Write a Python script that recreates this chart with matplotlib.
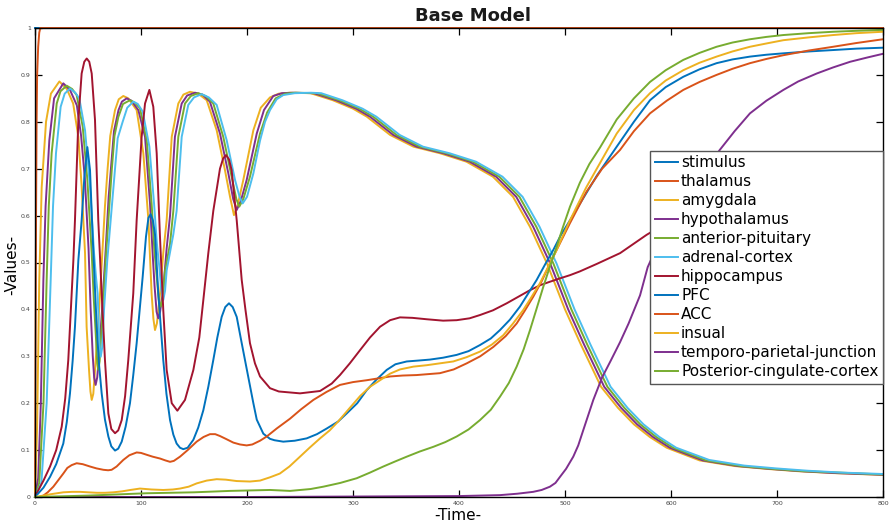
import numpy as np
import matplotlib
matplotlib.use("Agg")
import matplotlib.pyplot as plt

# time / value pairs
t_stimulus = [0, 800]
stimulus = [1, 1]

t_thalamus = [0, 0.5, 1, 1.5, 2, 3, 4, 5, 800]
thalamus = [0, 0.3, 0.6, 0.8, 0.9, 0.96, 0.99, 1.0, 1.0]

t_amygdala = [0, 2, 4, 6.3, 10.4, 15, 23, 30, 36, 40.9, 44, 47.2, 48.7, 51, 52.3, 53.5, 55, 56.6,
              60, 63, 66, 68.5, 71, 75.5, 79, 83.3, 88, 95.9, 102.2, 107, 110, 111.7, 113.2, 115,
              118, 121, 124.2, 129, 135.2, 140, 146.2, 154, 162, 171.4, 179.2, 184, 187.7, 191,
              196.5, 206, 213, 221.7, 230, 240.6, 260, 281, 300, 313, 335, 357, 382, 407, 432,
              451, 467, 483, 500, 515, 534, 550, 565, 580, 596, 627, 660, 690, 720, 753, 800]
amygdala = [0, 0.15, 0.46, 0.66, 0.80, 0.86, 0.886, 0.87, 0.839, 0.768, 0.662, 0.52, 0.363, 0.27,
            0.225, 0.207, 0.22, 0.27, 0.38, 0.5, 0.62, 0.70, 0.77, 0.825, 0.848, 0.855, 0.85, 0.825,
            0.733, 0.59, 0.434, 0.38, 0.356, 0.37, 0.434, 0.52, 0.59, 0.768, 0.839, 0.858, 0.864,
            0.86, 0.846, 0.782, 0.697, 0.64, 0.601, 0.62, 0.676, 0.782, 0.83, 0.852, 0.86, 0.862,
            0.861, 0.846, 0.828, 0.811, 0.772, 0.747, 0.733, 0.715, 0.683, 0.64, 0.576, 0.498,
            0.40, 0.325, 0.235, 0.19, 0.155, 0.128, 0.105, 0.078, 0.066, 0.06, 0.055, 0.051, 0.047]

t_hypothalamus = [0, 3, 5.5, 7.9, 10, 13.5, 18, 26.7, 33, 39.5, 43.5, 47, 50.5, 52.5, 54.5, 55.8,
                  57.2, 58.7, 60, 63.3, 66.5, 69.5, 72, 74.5, 78.8, 82, 86.5, 91, 97.5, 103.8,
                  108.5, 111.2, 112.8, 114.7, 116.3, 118, 121.2, 124.2, 127.4, 132, 138.4, 143.5,
                  151, 158, 165, 174.5, 182.4, 187, 190.3, 194, 199.7, 209.2, 216, 224.8, 233, 243,
                  263, 284, 303, 316, 338, 360, 385, 410, 435, 454, 470, 486, 503, 518, 537, 553,
                  568, 583, 599, 630, 663, 693, 723, 756, 800]
hypothalamus = [0, 0.04, 0.2, 0.463, 0.62, 0.76, 0.85, 0.882, 0.868, 0.835, 0.77, 0.68, 0.53, 0.40,
                0.30, 0.255, 0.239, 0.255, 0.29, 0.40, 0.52, 0.64, 0.71, 0.78, 0.825, 0.843, 0.85,
                0.845, 0.825, 0.768, 0.626, 0.51, 0.45, 0.395, 0.381, 0.395, 0.448, 0.53, 0.6,
                0.768, 0.839, 0.856, 0.862, 0.858, 0.843, 0.775, 0.69, 0.635, 0.612, 0.63, 0.676,
                0.775, 0.825, 0.855, 0.861, 0.862, 0.861, 0.846, 0.828, 0.811, 0.772, 0.747, 0.733,
                0.715, 0.683, 0.64, 0.576, 0.498, 0.40, 0.325, 0.235, 0.19, 0.155, 0.128, 0.105,
                0.078, 0.066, 0.06, 0.055, 0.051, 0.0475]

t_pituitary = [0, 4, 8, 11, 13, 15.7, 20.5, 24, 29.9, 35, 39.3, 45, 49.4, 53.5, 55.5, 57.5, 58.7,
               59.7, 61, 62.9, 66, 69.5, 72.5, 75, 78.6, 83, 89.6, 94, 99, 105.4, 110, 112.5,
               114.8, 116.8, 118.6, 120.3, 122.5, 127.4, 130.5, 135.2, 141.5, 147, 154, 161, 168.2,
               177.6, 185.5, 190, 192.7, 196.5, 202.8, 212.3, 219, 227, 236, 246, 266, 287, 306,
               319, 341, 363, 388, 413, 438, 457, 473, 489, 506, 521, 540, 556, 571, 586, 602, 633,
               666, 696, 726, 759, 800]
pituitary = [0, 0.03, 0.2, 0.463, 0.62, 0.733, 0.839, 0.865, 0.877, 0.87, 0.857, 0.79, 0.676, 0.52,
             0.42, 0.34, 0.285, 0.271, 0.29, 0.363, 0.48, 0.6, 0.7, 0.77, 0.81, 0.838, 0.846, 0.841,
             0.829, 0.761, 0.626, 0.53, 0.47, 0.42, 0.406, 0.42, 0.48, 0.54, 0.61, 0.768, 0.839,
             0.855, 0.861, 0.855, 0.839, 0.768, 0.683, 0.635, 0.619, 0.635, 0.683, 0.775, 0.82,
             0.85, 0.86, 0.862, 0.861, 0.846, 0.828, 0.811, 0.772, 0.747, 0.733, 0.715, 0.683,
             0.64, 0.576, 0.498, 0.40, 0.325, 0.235, 0.19, 0.155, 0.128, 0.105, 0.078, 0.066,
             0.06, 0.055, 0.052, 0.048]

t_adrenal = [0, 6, 11, 14.8, 17, 19.8, 24.2, 28, 33, 38, 41.8, 47.2, 51.9, 55.7, 57.5, 59.1, 60.7,
             62, 63.5, 65.1, 68.2, 72.5, 75.5, 78, 82.7, 87, 92.8, 97, 101.6, 107.9, 112.3, 115,
             117.3, 119.2, 121, 122.7, 124.2, 130.5, 133.6, 138.4, 144.6, 150, 157.2, 164, 171.4,
             180.8, 188.7, 193, 195.9, 200, 206, 212.3, 217, 221.7, 228, 234.2, 245, 260, 270, 290,
             309, 322, 344, 366, 391, 416, 441, 460, 476, 492, 509, 524, 543, 559, 574, 589, 605,
             636, 669, 699, 729, 762, 800]
adrenal = [0, 0.03, 0.2, 0.463, 0.62, 0.733, 0.832, 0.86, 0.871, 0.862, 0.85, 0.782, 0.662, 0.52,
           0.47, 0.434, 0.33, 0.299, 0.32, 0.399, 0.505, 0.62, 0.7, 0.765, 0.8, 0.83, 0.843, 0.838,
           0.822, 0.747, 0.626, 0.54, 0.49, 0.44, 0.42, 0.44, 0.483, 0.56, 0.61, 0.768, 0.836,
           0.852, 0.859, 0.852, 0.836, 0.761, 0.676, 0.64, 0.626, 0.64, 0.69, 0.76, 0.80, 0.825,
           0.848, 0.857, 0.861, 0.862, 0.861, 0.846, 0.828, 0.811, 0.772, 0.747, 0.733, 0.715,
           0.683, 0.64, 0.576, 0.498, 0.40, 0.325, 0.235, 0.19, 0.155, 0.128, 0.105, 0.079,
           0.067, 0.061, 0.056, 0.052, 0.049]

t_hippocampus = [0, 1.6, 8, 14.2, 20, 25.2, 28.5, 31.4, 34.6, 36.2, 37.7, 40.9, 44, 46.5, 48.8,
                 51.2, 53.5, 56.6, 59.7, 62.9, 66, 69.2, 72, 75.5, 78.5, 81.8, 85, 88, 92.7, 95.9,
                 100.6, 103.8, 107.9, 111.6, 114.8, 117.9, 121, 124.2, 129, 134.3, 141.5, 149.4,
                 155, 158.8, 163.5, 168.2, 174.5, 177.5, 180.2, 183, 185.5, 190.3, 195, 198.5,
                 202.8, 207.5, 212.3, 221.7, 230, 250, 268.9, 280, 287.7, 297, 306.6, 316, 325.5,
                 335, 344.3, 356, 369.5, 385, 397.8, 410, 419.8, 432, 445, 456, 467, 477, 485.8,
                 495, 504.7, 514, 530, 552, 577, 600, 650, 700, 750, 800]
hippocampus = [0, 0.008, 0.035, 0.065, 0.1, 0.15, 0.21, 0.292, 0.434, 0.505, 0.59, 0.804, 0.903,
               0.928, 0.935, 0.928, 0.903, 0.804, 0.59, 0.434, 0.292, 0.178, 0.145, 0.136, 0.142,
               0.164, 0.215, 0.292, 0.434, 0.59, 0.768, 0.839, 0.868, 0.832, 0.733, 0.555, 0.399,
               0.271, 0.2, 0.184, 0.207, 0.271, 0.34, 0.42, 0.52, 0.61, 0.70, 0.722, 0.729, 0.72,
               0.697, 0.59, 0.463, 0.40, 0.328, 0.285, 0.257, 0.232, 0.225, 0.221, 0.226, 0.242,
               0.26, 0.285, 0.313, 0.34, 0.363, 0.377, 0.383, 0.382, 0.379, 0.376, 0.377, 0.381,
               0.388, 0.398, 0.413, 0.427, 0.441, 0.452, 0.459, 0.466, 0.473, 0.481, 0.497, 0.52,
               0.559, 0.59, 0.645, 0.68, 0.70, 0.715]

t_pfc = [0, 1.6, 8, 14.2, 20, 26.7, 30, 33, 35.5, 37.7, 40.9, 44, 46.5, 49.4, 51.9, 54.4, 58.2,
         60.5, 62.9, 66, 69.2, 72, 75.5, 78.5, 81.8, 85.5, 89.6, 92.7, 95.9, 101.6, 104.7, 107,
         109.1, 111.2, 113.2, 116.3, 121, 124, 127.4, 130.5, 133.6, 136.8, 139.9, 144, 149.4, 154,
         158.8, 163.5, 168.2, 172, 176.1, 179.5, 183, 186.5, 190.3, 194, 198.1, 206, 209.2, 215.4,
         221.7, 226, 234.2, 245, 256.3, 266, 275.2, 286, 294, 304, 313, 322, 331.8, 340, 350.7,
         362, 372.6, 385, 397.8, 409, 419.8, 430, 438.7, 448, 457.5, 465, 473.3, 481, 489, 496,
         504.7, 514, 530, 548.8, 565, 580.2, 595, 611.6, 627, 643, 658, 674.5, 690, 706, 730, 753,
         775, 800]
pfc = [0, 0.004, 0.02, 0.043, 0.07, 0.114, 0.16, 0.221, 0.29, 0.363, 0.505, 0.59, 0.68, 0.746,
       0.697, 0.555, 0.363, 0.28, 0.221, 0.165, 0.129, 0.108, 0.099, 0.103, 0.118, 0.15, 0.2, 0.26,
       0.328, 0.47, 0.555, 0.595, 0.603, 0.59, 0.56, 0.434, 0.292, 0.22, 0.164, 0.133, 0.114, 0.105,
       0.102, 0.105, 0.122, 0.148, 0.185, 0.235, 0.292, 0.34, 0.384, 0.405, 0.413, 0.405, 0.384,
       0.34, 0.292, 0.2, 0.165, 0.135, 0.124, 0.121, 0.118, 0.12, 0.125, 0.134, 0.146, 0.161,
       0.178, 0.2, 0.228, 0.25, 0.271, 0.283, 0.289, 0.291, 0.293, 0.297, 0.303, 0.311, 0.324,
       0.338, 0.356, 0.378, 0.406, 0.433, 0.463, 0.495, 0.527, 0.558, 0.59, 0.625, 0.685, 0.747,
       0.80, 0.846, 0.874, 0.896, 0.912, 0.925, 0.933, 0.939, 0.943, 0.946, 0.95, 0.953, 0.956,
       0.958]

t_acc = [0, 4, 7.9, 12, 17.3, 22, 26.7, 30.5, 34.6, 39.3, 45, 51.9, 58, 64.5, 69, 72.3, 77, 83.3,
         89, 95.9, 100, 105.4, 111, 118, 123, 127.4, 131, 136.8, 144, 152.5, 159, 165.1, 170,
         174.5, 180, 187.1, 193.4, 199.7, 205, 212.3, 218.6, 228, 240.6, 251, 262.6, 275, 287.7,
         300, 313, 324, 335, 347, 360, 371, 382, 395, 407.3, 420, 432.4, 444, 454.4, 462, 470, 478,
         485.8, 495, 504.7, 520, 535, 551.9, 565, 580.2, 596, 611.6, 627, 643, 658, 674.5, 690,
         706, 730, 753, 775, 800]
acc = [0, 0, 0.003, 0.01, 0.022, 0.036, 0.05, 0.062, 0.068, 0.072, 0.07, 0.065, 0.061, 0.058,
       0.057, 0.058, 0.065, 0.079, 0.089, 0.095, 0.094, 0.09, 0.086, 0.082, 0.078, 0.075, 0.077,
       0.086, 0.1, 0.118, 0.128, 0.134, 0.134, 0.13, 0.124, 0.116, 0.112, 0.11, 0.112, 0.12, 0.129,
       0.146, 0.167, 0.187, 0.207, 0.224, 0.239, 0.245, 0.249, 0.253, 0.257, 0.259, 0.26, 0.262,
       0.264, 0.272, 0.285, 0.3, 0.32, 0.343, 0.37, 0.397, 0.427, 0.46, 0.498, 0.54, 0.584, 0.65,
       0.70, 0.74, 0.78, 0.818, 0.845, 0.868, 0.885, 0.9, 0.913, 0.925, 0.934, 0.942, 0.952, 0.96,
       0.968, 0.976]

t_insual = [0, 7.9, 15, 26.7, 35, 42.5, 50, 58.2, 66, 73.9, 82, 90, 99, 110, 121, 130, 136.8, 145,
            152.5, 162, 171.4, 180, 190.3, 202.8, 212.3, 221.7, 231, 240, 250, 259, 268.9, 278,
            286, 297, 306.6, 316, 325.5, 335, 344.3, 357, 369.5, 382, 394.6, 407, 419.8, 431,
            441.8, 451, 460.7, 468, 476.4, 484, 492.2, 498, 504.7, 520, 535, 548.8, 565, 580.2,
            595, 611.6, 627, 643, 658, 674.5, 690, 706, 730, 753, 775, 800]
insual = [0, 0.003, 0.006, 0.01, 0.011, 0.011, 0.01, 0.009, 0.009, 0.01, 0.012, 0.015, 0.018,
          0.016, 0.015, 0.016, 0.018, 0.022, 0.029, 0.035, 0.038, 0.037, 0.034, 0.033, 0.035,
          0.042, 0.05, 0.065, 0.086, 0.105, 0.125, 0.142, 0.161, 0.19, 0.215, 0.235, 0.249, 0.263,
          0.272, 0.278, 0.281, 0.285, 0.289, 0.298, 0.31, 0.325, 0.345, 0.37, 0.399, 0.425, 0.456,
          0.49, 0.527, 0.557, 0.59, 0.66, 0.72, 0.775, 0.825, 0.861, 0.888, 0.91, 0.926, 0.939,
          0.95, 0.96, 0.967, 0.974, 0.98, 0.985, 0.989, 0.992]

t_tpj = [0, 100, 200, 300, 400, 438.7, 455, 470, 478, 485.8, 491, 495.3, 501, 507.8, 512.5, 517.3,
         522, 526.7, 535, 543, 551.9, 560, 570.8, 578, 590, 610, 630, 646, 660, 674.5, 690, 706,
         720, 737.5, 753, 769, 785, 800]
tpj = [0, 0, 0, 0.001, 0.002, 0.004, 0.007, 0.011, 0.015, 0.022, 0.03, 0.043, 0.06, 0.086, 0.11,
       0.143, 0.175, 0.207, 0.255, 0.29, 0.33, 0.37, 0.43, 0.49, 0.55, 0.63, 0.69, 0.74, 0.78,
       0.818, 0.845, 0.868, 0.886, 0.903, 0.916, 0.928, 0.937, 0.945]

t_pcc = [0, 50, 105.4, 150, 184, 221.7, 240.6, 260, 272, 288, 303.5, 316, 328.6, 340, 350.7, 363,
         375.8, 387, 397.8, 409, 419.8, 430, 438.7, 447, 454.4, 461, 467, 473, 479.5, 486, 492.2,
         498, 504.7, 514, 523, 533, 548.8, 565, 580.2, 595, 611.6, 627, 643, 658, 674.5, 690, 706,
         730, 753, 775, 800]
pcc = [0, 0.003, 0.008, 0.01, 0.013, 0.015, 0.013, 0.017, 0.022, 0.03, 0.04, 0.052, 0.065, 0.076,
       0.086, 0.097, 0.107, 0.117, 0.129, 0.144, 0.164, 0.186, 0.214, 0.243, 0.278, 0.315, 0.356,
       0.4, 0.448, 0.493, 0.534, 0.575, 0.619, 0.67, 0.71, 0.745, 0.805, 0.85, 0.885, 0.91, 0.932,
       0.947, 0.96, 0.969, 0.976, 0.981, 0.985, 0.989, 0.992, 0.994, 0.996]

labels = ["stimulus", "thalamus", "amygdala", "hypothalamus", "anterior-pituitary",
          "adrenal-cortex", "hippocampus", "PFC", "ACC", "insual",
          "temporo-parietal-junction", "Posterior-cingulate-cortex"]
colors = ["#0072BD", "#D95319", "#EDB120", "#7E2F8E", "#77AC30", "#4DBEEE", "#A2142F",
          "#0072BD", "#D95319", "#EDB120", "#7E2F8E", "#77AC30"]

series = [(t_stimulus, stimulus), (t_thalamus, thalamus), (t_amygdala, amygdala),
          (t_hypothalamus, hypothalamus), (t_pituitary, pituitary), (t_adrenal, adrenal),
          (t_hippocampus, hippocampus), (t_pfc, pfc), (t_acc, acc), (t_insual, insual),
          (t_tpj, tpj), (t_pcc, pcc)]

fig = plt.figure(figsize=(8.92, 5.24), dpi=100)
ax = fig.add_axes([35/892, 27/524, 848/892, 469/524])

for (t, v), lab, c in zip(series, labels, colors):
    ax.plot(t, v, color=c, linewidth=1.4, label=lab, clip_on=False)

ax.set_xlim(0, 800)
ax.set_ylim(0, 1)
ax.set_xticks(range(0, 801, 100))
yt = np.round(np.arange(0, 1.01, 0.1), 1)
ax.set_yticks(yt)
ax.set_yticklabels(["0" if y == 0 else ("1" if y == 1 else str(y)) for y in yt])
ax.tick_params(direction="in", length=5, width=0.9, top=True, right=True,
               labelsize=4.5, labelcolor="#444444", pad=3)
for s in ax.spines.values():
    s.set_linewidth(1.0)

leg = ax.legend(loc="upper right", bbox_to_anchor=(1.0, 0.738), fontsize=11,
                frameon=True, fancybox=False, framealpha=1, edgecolor="#555555",
                borderpad=0.3, labelspacing=0.26, handlelength=1.5, handletextpad=0.2,
                borderaxespad=0)
leg.get_frame().set_linewidth(1.0)

fig.text(473/892, 1 - 16/524, "Base Model", ha="center", va="center",
         fontsize=13, fontweight="bold", color="#1a1a1a")
fig.text(458/892, 1 - 516/524, "-Time-", ha="center", va="center", fontsize=11)
fig.text(12/892, 1 - 265/524, "-Values-", ha="center", va="center", fontsize=11, rotation=90)

plt.savefig("out.png", dpi=100)
